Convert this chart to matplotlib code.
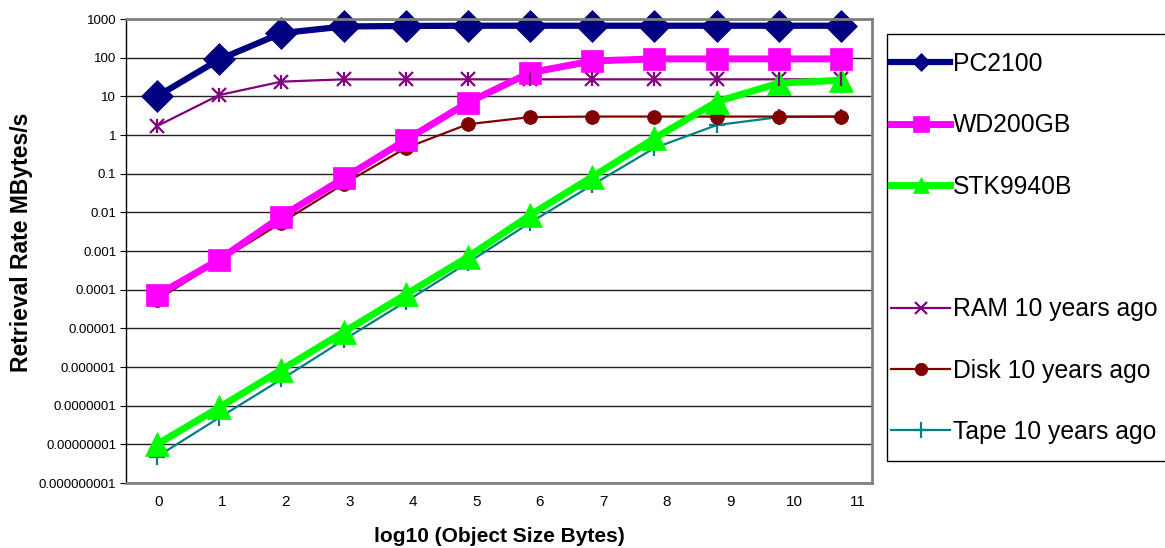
import matplotlib

matplotlib.use("Agg")
import matplotlib.pyplot as plt
from matplotlib import font_manager
from matplotlib.lines import Line2D
from matplotlib.patches import Rectangle


log_sizes = [0, 1, 2, 3, 4, 5, 6, 7, 8, 9, 10, 11]
tick_labels = [str(v) for v in log_sizes]

pc2100 = [10, 90, 430, 640, 660, 670, 670, 670, 670, 670, 670, 670]
wd200gb = [7.2e-5, 6e-4, 7.8e-3, 0.076, 0.74, 6.9, 41, 82, 93, 93, 93, 93]
stk9940b = [1e-8, 9e-8, 8.5e-7, 8e-6, 7.5e-5, 7e-4, 8.5e-3, 0.083, 0.82, 7.2, 22, 26]
ram_old = [1.7, 10.8, 24, 27.5, 27.5, 27.5, 27.5, 27.5, 27.5, 27.5, 27.5, 28]
disk_old = [5.5e-5, 5.5e-4, 5.4e-3, 0.054, 0.46, 1.9, 2.9, 3, 3, 3, 3, 3]
tape_old = [4.8e-9, 4.9e-8, 4.8e-7, 5e-6, 4.9e-5, 5e-4, 5.4e-3, 0.051, 0.46, 1.8, 2.9, 3]

y_ticks = [1e-9, 1e-8, 1e-7, 1e-6, 1e-5, 1e-4, 1e-3, 1e-2, 1e-1, 1, 10, 100, 1000]
y_tick_labels = [
    "0.000000001", "0.00000001", "0.0000001", "0.000001", "0.00001",
    "0.0001", "0.001", "0.01", "0.1", "1", "10", "100", "1000",
]

plt.rcParams["font.family"] = ["Liberation Sans", "DejaVu Sans"]
installed = {f.name for f in font_manager.fontManager.ttflist}
narrow = "Liberation Sans Narrow" in installed
tick_family = "Liberation Sans Narrow" if narrow else "Liberation Sans"
ytick_size = 11 if narrow else 9.5
xtick_size = 12.5 if narrow else 11

fig = plt.figure(figsize=(11.65, 5.48), dpi=100)
ax = fig.add_axes([126 / 1165, 1 - 483 / 548, 746 / 1165, 464 / 548])

# values, label, colour, line width, marker, marker size, legend marker size
series_specs = (
    (pc2100, "PC2100", "#000080", 4.5, "D", 16, 9),
    (wd200gb, "WD200GB", "#FF00FF", 5.0, "s", 16, 12),
    (stk9940b, "STK9940B", "#00FF00", 5.0, "^", 17, 12),
    (ram_old, "RAM 10 years ago", "#800080", 1.6, "x", 10, 8),
    (disk_old, "Disk 10 years ago", "#800000", 1.6, "o", 10, 9),
    (tape_old, "Tape 10 years ago", "#008080", 1.6, "+", 11, 11),
)

for values, label, color, width, marker, size, _ in reversed(series_specs):
    ax.plot(
        log_sizes, values, color=color, linewidth=width, marker=marker,
        markersize=size, markeredgewidth=1.6 if marker in "x+" else 0.5,
        markeredgecolor=color, clip_on=False,
    )
# RAM uses an asterisk: overlay a vertical bar on the x
ax.plot(log_sizes, ram_old, linestyle="none", marker="|", markersize=10,
        color="#800080", markeredgewidth=1.6, clip_on=False)

handles = []
for values, label, color, width, marker, size, leg_size in series_specs:
    handles.append(Line2D([], [], color=color, linewidth=width, marker=marker,
                          markersize=leg_size,
                          markeredgewidth=1.6 if marker in "x+" else 0.5,
                          markeredgecolor=color, label=label))
handles.insert(3, Line2D([], [], color="none", label=" "))

ax.set_yscale("log")
ax.set_ylim(1e-9, 1000)
ax.set_xlim(-0.5, 11.5)
ax.set_yticks(y_ticks)
ax.set_yticklabels(y_tick_labels, fontfamily=tick_family)
ax.minorticks_off()
ax.set_xticks([])
ax.tick_params(axis="y", length=4, labelsize=ytick_size, direction="out", pad=3)
ax.grid(True, axis="y", color="#222222", linewidth=1.0)
ax.set_axisbelow(True)
for side in ("top", "right", "bottom"):
    ax.spines[side].set_color("#808080")
    ax.spines[side].set_linewidth(2)
ax.spines["left"].set_color("#000000")
ax.spines["left"].set_linewidth(1)

# category labels sit slightly right of the points in the original
lab_ax = ax.twiny()
lab_ax.set_xlim(-0.52, 11.23)
lab_ax.xaxis.set_ticks_position("bottom")
lab_ax.set_xticks(log_sizes)
lab_ax.set_xticklabels(tick_labels, fontfamily=tick_family)
lab_ax.tick_params(axis="x", length=0, labelsize=xtick_size, pad=9)
for side in lab_ax.spines:
    lab_ax.spines[side].set_visible(False)

ax.set_xlabel("log10 (Object Size Bytes)", fontsize=15, fontweight="bold", labelpad=32)
fig.text(22 / 1165, 1 - 242 / 548, "Retrieval Rate MBytes/s", rotation=90,
         ha="center", va="center", fontsize=16.5, fontweight="bold")

fig.patches.append(Rectangle(
    (887 / 1165, 1 - 461 / 548), 290 / 1165, 427 / 548,
    transform=fig.transFigure, facecolor="white", edgecolor="black",
    linewidth=1, zorder=0,
))
leg = fig.legend(
    handles=handles, loc="upper left", bbox_to_anchor=(891 / 1165, 1 - 52 / 548),
    fontsize=17.8, frameon=False, labelspacing=1.51, handlelength=2.4,
    handletextpad=0.1, borderpad=0, borderaxespad=0,
)

fig.savefig("out.png", dpi=100)
plt.close(fig)
